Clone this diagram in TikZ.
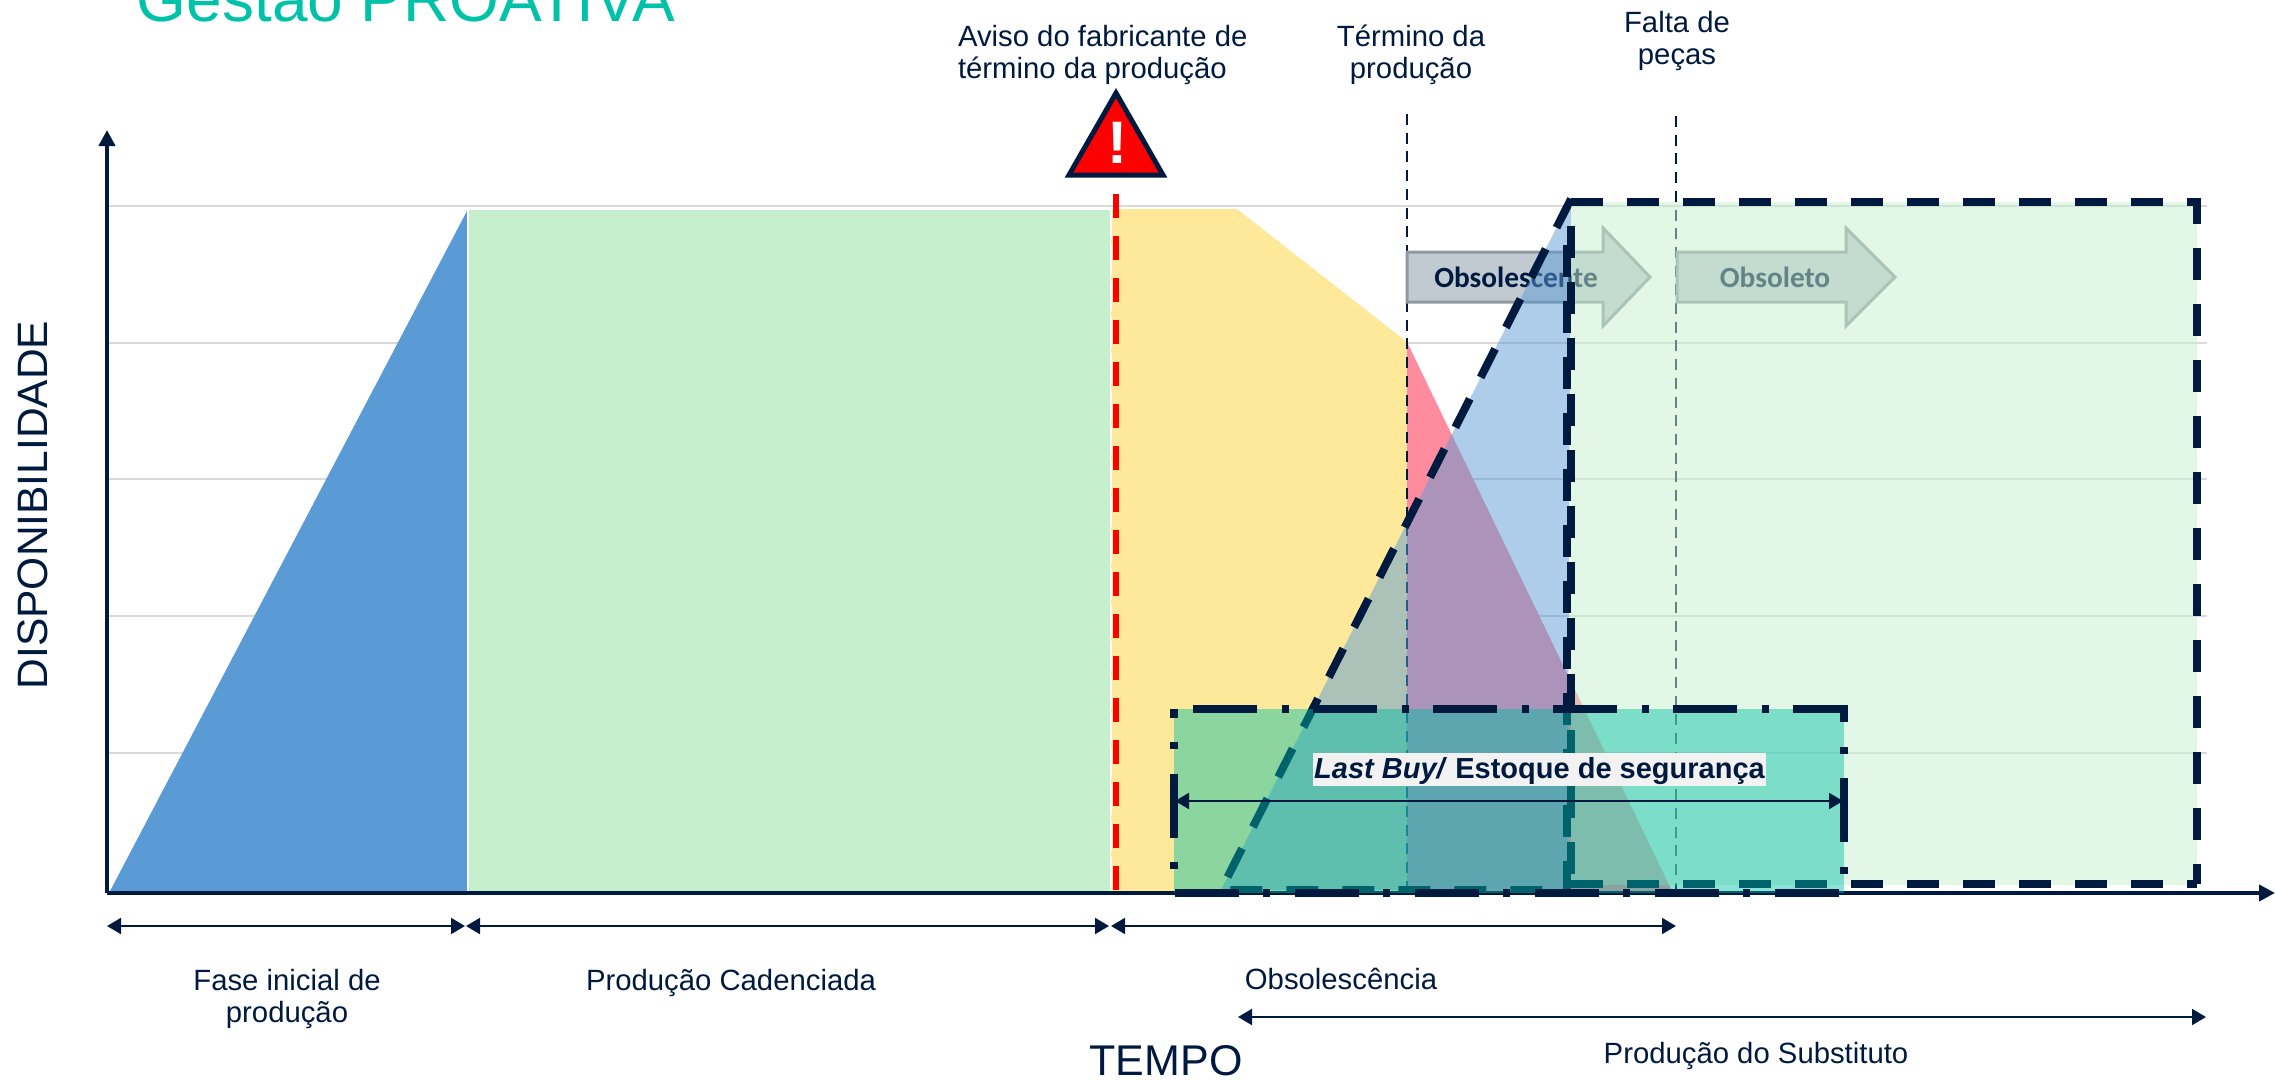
\documentclass[tikz,border=0pt]{standalone}
\usepackage{fontspec}
\setmainfont{Liberation Sans}
\newfontfamily\carlitofont{Carlito}
\usetikzlibrary{arrows.meta}
\definecolor{navy}{HTML}{001A3F}
\definecolor{titleteal}{HTML}{00C2A8}
\definecolor{gridgray}{HTML}{D9D9D9}
\definecolor{rampblue}{HTML}{5B9BD5}
\definecolor{prodgreen}{HTML}{C6EFCE}
\definecolor{obsyellow}{HTML}{FEE99A}
\definecolor{lostpink}{HTML}{FF8C9E}
\definecolor{stockteal}{RGB}{0,190,164}
\definecolor{arrowfill}{HTML}{C1CAD1}
\definecolor{arrowedge}{HTML}{8F999F}
\definecolor{alarmred}{HTML}{FF0000}
\definecolor{labelbg}{HTML}{F2F2F2}
\tikzset{
  gridline/.style={gridgray,line width=2pt},
  lbl/.style={text=navy,inner sep=0pt,outer sep=0pt,font=\fontsize{29.3}{32}\selectfont,align=center},
  vdash/.style={navy,line width=2.8pt,dash pattern=on 11pt off 7.7pt},
  bigdash/.style={navy,line width=8pt,dash pattern=on 32pt off 24pt},
  dashdotbox/.style={navy,line width=8pt,dash pattern=on 64pt off 25pt on 7pt off 24pt,dash phase=101pt},
  blockarrow/.style={fill=arrowfill,draw=arrowedge,line width=3pt,miter limit=3},
  arrowtext/.style={text=navy,inner sep=0pt,font=\carlitofont\bfseries\fontsize{29.3}{30}\selectfont},
  axisline/.style={navy,line width=4.5pt,-{Triangle[length=16pt,width=16pt]}},
  span/.style={navy,line width=2pt,{Triangle[length=14pt,width=16pt]}-{Triangle[length=14pt,width=16pt]}},
}
\begin{document}
\begin{tikzpicture}[x=1pt,y=-1pt]
\useasboundingbox (0,0) rectangle (2275,1081);
\clip (0,0) rectangle (2275,1081);
% grid
\foreach \yy in {206,342.5,479,616,753}{\draw[gridline] (109,\yy) -- (2207,\yy);}
% phases
\path[fill=rampblue] (109,893) -- (468,209) -- (468,893) -- cycle;
\path[fill=prodgreen,draw=white,line width=1.5pt] (468,209) rectangle (1111,893);
\path[fill=obsyellow] (1111,209) -- (1237,209) -- (1407,342) -- (1407,893) -- (1111,893) -- cycle;
\path[fill=lostpink] (1407,342) -- (1673,893) -- (1407,893) -- cycle;
\draw[white,line width=1.5pt,dash pattern=on 30pt off 6pt] (1111,209) -- (1111,893);
% vertical markers
\coordinate (endtop) at (1407,114);
\coordinate (endbot) at (1407,893);
\coordinate (lacktop) at (1676,116);
\coordinate (lackbot) at (1676,893);
\draw[vdash] (endtop) -- (endbot);
\draw[vdash] (lacktop) -- (lackbot);
% status arrows
\path[blockarrow] (1407,252) -- (1603,252) -- (1603,228) -- (1650,277) -- (1603,326) -- (1603,302) -- (1407,302) -- cycle;
\node[arrowtext] (obsolescente) at (1516,277) {Obsolescente};
\path[blockarrow] (1677,252) -- (1846,252) -- (1846,228) -- (1895,277) -- (1846,326) -- (1846,302) -- (1677,302) -- cycle;
\node[arrowtext] (obsoleto) at (1775,277) {Obsoleto};
% substitute ramp
\path[fill=rampblue,fill opacity=.5] (1571,199) -- (1221,890) -- (1567.3,890) -- cycle;
\draw[bigdash] (1571,199) -- (1221,890) -- (1567.3,890);
\draw[bigdash] (1567.3,245) -- (1567.3,893);
% substitute box
\path[fill=prodgreen,fill opacity=.5] (1570.7,202) rectangle (2197,885);
\draw[bigdash] (1570.7,202) -- (2197,202) -- (2197,884);
\draw[bigdash] (1570.7,884) -- (2197,884);
\draw[bigdash,dash phase=32pt] (1570.7,202) -- (1570.7,884);
% axes
\coordinate (origin) at (107,893);
\coordinate (ytip) at (107,130);
\coordinate (xtip) at (2275,893);
\draw[axisline] (origin) -- (ytip);
\draw[axisline] (origin) -- (xtip);
% stock box
\path[fill=stockteal,fill opacity=.45] (1174,709) rectangle (1844,893);
\draw[dashdotbox] (1174,709) -- (1844,709) -- (1844,893) -- (1174,893) -- cycle;
\coordinate (stockl) at (1175,801);
\coordinate (stockr) at (1843,801);
\draw[span] (stockl) -- (stockr);
\node[fill=labelbg,text=navy,inner xsep=0pt,inner ysep=0pt,minimum width=453pt,text height=25pt,text depth=8pt,anchor=base,font=\bfseries\fontsize{29}{32}\selectfont] (stock) at (1539.5,778) {\textit{Last Buy/} Estoque de segurança};
% alarm
\coordinate (alarmbase) at (1116,175);
\coordinate (alarmfoot) at (1116,893);
\draw[alarmred,line width=6.5pt,dash pattern=on 24pt off 18pt,dash phase=23pt] (alarmbase) -- (alarmfoot);
\path[fill=alarmred,draw=navy,line width=5pt,line join=miter] (1116,93) -- (1163,175) -- (1069,175) -- cycle;
\node[text=white,inner sep=0pt,font=\bfseries\fontsize{60}{60}\selectfont,anchor=base] (bang) at (1117,163) {!};
% span arrows
\coordinate (a0) at (107,926);
\coordinate (a1) at (465,926);
\coordinate (a2) at (466,926);
\coordinate (a3) at (1109,926);
\coordinate (a4) at (1111,926);
\coordinate (a5) at (1676,926);
\coordinate (b0) at (1238,1017);
\coordinate (b1) at (2206,1017);
\draw[span] (a0) -- (a1);
\draw[span] (a2) -- (a3);
\draw[span] (a4) -- (a5);
\draw[span] (b0) -- (b1);
% labels
\node[text=titleteal,inner sep=0pt,font=\fontsize{64}{64}\selectfont,anchor=base] (title) at (406,21.5) {Gestão PROATIVA};
\node[lbl,align=left,anchor=west] (aviso) at (958,55) {Aviso do fabricante de\\término da produção};
\node[lbl] (termino) at (1411,55) {Término da\\produção};
\node[lbl] (falta) at (1677,41) {Falta de\\peças};
\node[lbl] (fase) at (287,999) {Fase inicial de\\produção};
\node[lbl,anchor=base] (cadenciada) at (731,990) {Produção Cadenciada};
\node[lbl,anchor=base] (obs) at (1341,989) {Obsolescência};
\node[lbl,anchor=base] (subst) at (1756,1063) {Produção do Substituto};
\node[text=navy,inner sep=0pt,font=\fontsize{43}{44}\selectfont,anchor=base] (tempo) at (1166,1075) {TEMPO};
\node[text=navy,inner sep=0pt,font=\fontsize{42.5}{44}\selectfont,rotate=90] (disp) at (33,505) {DISPONIBILIDADE};
\end{tikzpicture}
\end{document}
